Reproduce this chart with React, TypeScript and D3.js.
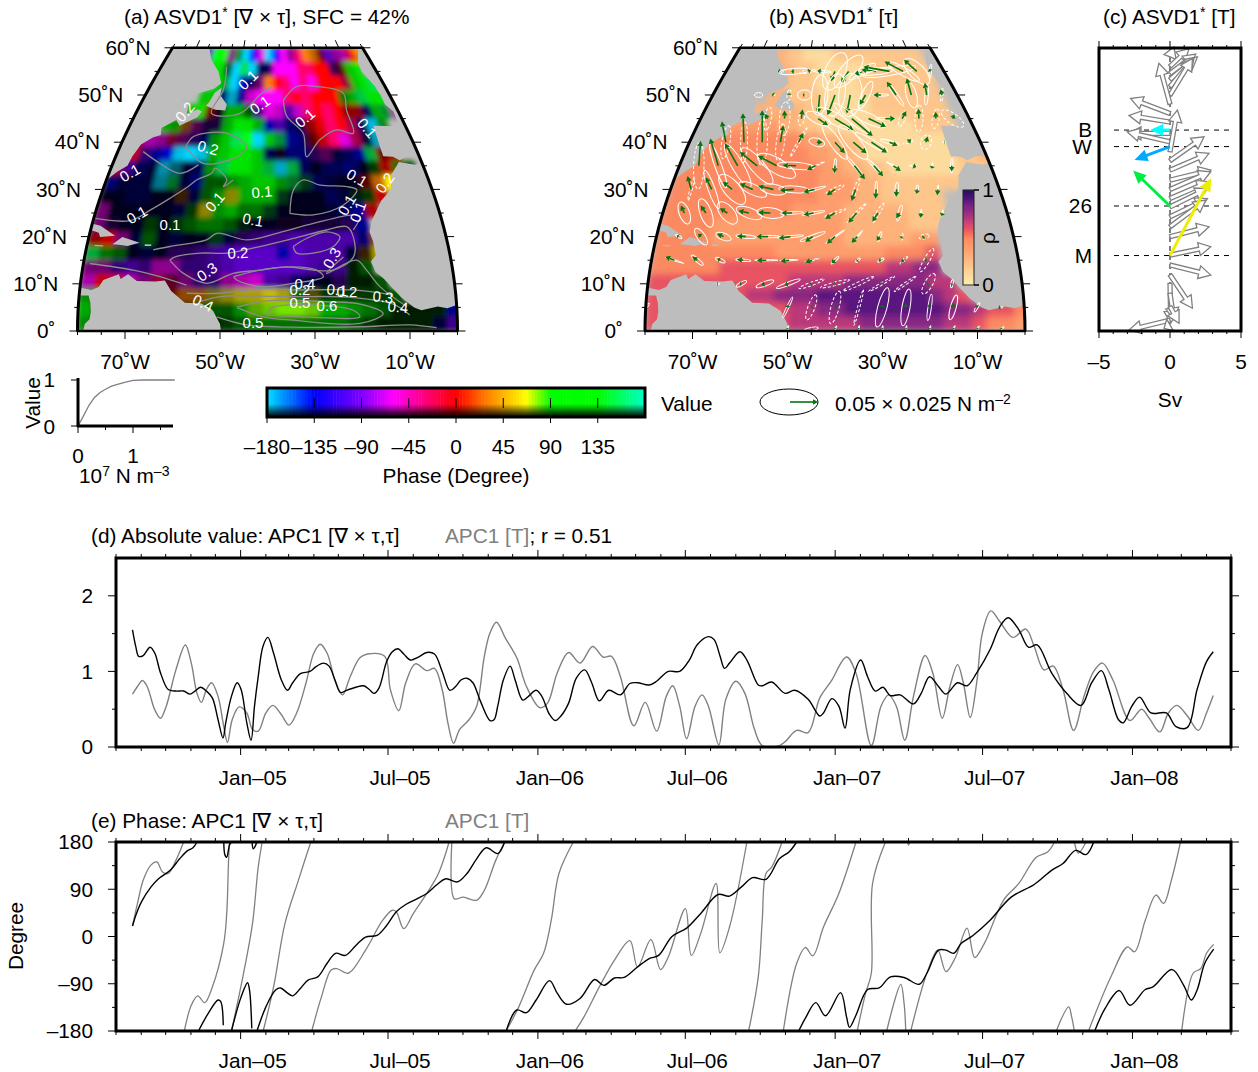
import React from "react";
import * as d3 from "d3";

const FONT = "'Liberation Sans', Arial, sans-serif";
const LABEL = 20.8;
const SUP = 14;

// phase classes (degrees) used by the grid of panel (a); "." means no data
const phaseByLetter: Record<string, number> = { C: -178, B: -135, V: -95, M: -60, P: -25, R: 0, O: 30, Y: 62, L: 78, G: 100, T: 155 };

// 3 x 3 degree cells, 60N at the top, 80W at the left
const phaseRows = [
  ".....VGGMGCBMCBMMPOORVMMRO.",
  "......GGTCGCBBMMMPPRRVRGG..",
  ".......GGCBBMORPMPMRRRPGGT.",
  "......GGBCBMMMMPRPRRRGGTGG.",
  "....MGGRVGGGVMMVMPRPRRRBGTM",
  "...GGOMVVGGGGBVBBRRPRPBCG..",
  ".RMMPMVBGGTGCGTBBRRPMPBCG..",
  "RRVBBCCCGGGGGBVBBVMBBBTRR..",
  "RVBBCCBBGTGGGTCTBBBBBBGRGG.",
  "BBBBCTBBGGGGGGGTTBBBBROY...",
  "BBBBBBOBGGYGGGTBBBBBTGR....",
  "MBBBBBBGYGGGGTBBBBBBBR.....",
  "MVBBGBGGGGGTBBVVVVVVB......",
  "RRMBGBBBBTBVVVVVVVVVBO.....",
  "TGGBBBVVVVVVVVBVVVVBOY.....",
  "MMVVVMMVVVVVVVVVVVVGG......",
  "MRPMMPPMVVMMMVVBBBVGGG.....",
  "GGRRRRROOYYYYYYGYGGGGGG....",
  "GGGGGGGGGGGGLLLLLGGGGGGGGGB",
  "GGGGGGGGGGGGGGGGGGGGGGGGGBV",
];
// value of each cell in tenths (9 = full)
const valueRows = [
  "000007995599899959974756890",
  "000000883989339999999337800",
  "000000086973499999999957880",
  "000000774757999999999467880",
  "000057841663587679999553657",
  "000654322688666435899638500",
  "056543335789975543798627300",
  "674578986788731443323564600",
  "653264235788767631334126430",
  "422254243356775423211379000",
  "112211223556662111321270000",
  "411111225564421111235600000",
  "421121234431111122235000000",
  "574231211223455666664500000",
  "643121334567776766622600000",
  "444545544567777765513000000",
  "677645344456765321311300000",
  "555554455456676432222230000",
  "600000003335678876654311115",
  "500000000023444444432111125",
];
// rho of panel (b) in tenths
const rhoRows = [
  ".....33221111222222222222..",
  "......33222111111122222222.",
  ".......322211111222222222..",
  "......3322221111122222222..",
  "....333333221111122222222..",
  "..34444433221111111112222..",
  ".5555555554433221111111122.",
  "555555555554433211111111223",
  "555555555555443322111111222",
  "555555555555444332222222...",
  "5555555555554443322222.....",
  "5555555555444433333222.....",
  "5555444444444433333222.....",
  "555544444444443333344......",
  "555555555444444445556......",
  "555556666666666667788......",
  "6666666666777788888877.....",
  "66666667788899999999876....",
  "666666666677889999999887665",
  "666666666677777888888776554",
];

// coastlines, lon/lat
const landNorthAmerica: [number, number][] = [[-80.2, 25], [-80, 27], [-81, 30.5], [-80, 32], [-78, 33.8], [-76, 35], [-75.6, 37], [-74.5, 39.5], [-72, 41], [-70, 41.5], [-70.5, 43], [-67, 44.7], [-65.5, 43.5], [-61, 45.3], [-60, 46.5], [-61.5, 47], [-64.5, 46], [-65, 48.5], [-68, 49], [-63, 50.3], [-58, 51.3], [-56, 52.5], [-58, 55], [-62, 57.5], [-64.5, 60], [-95, 60], [-95, 25]];
const landNewfoundland: [number, number][] = [[-59.3, 47.7], [-56, 46.9], [-53, 46.7], [-52.8, 48], [-55.5, 50], [-55.5, 51.6], [-57.5, 50.5], [-58.5, 48.5]];
const landCuba: [number, number][] = [[-85, 22], [-82, 23.2], [-78, 22.3], [-74.2, 20.2], [-77.5, 19.9], [-78, 20.8], [-82, 22]];
const landHispaniola: [number, number][] = [[-74.4, 18.4], [-72.5, 19.9], [-68.4, 18.7], [-71, 18], [-72.5, 18.2]];
const landJamaica: [number, number][] = [[-78.3, 18.2], [-76.3, 18.1], [-76.5, 17.9], [-78.2, 18]];
const landPuertoRico: [number, number][] = [[-67.2, 18.4], [-65.7, 18.3], [-65.8, 18], [-67.2, 18]];
const landSouthAmerica: [number, number][] = [[-83, 8.5], [-80, 9.2], [-77.5, 8.7], [-76, 9.3], [-75.2, 10.8], [-72, 12], [-71.5, 11], [-70, 12], [-68, 10.6], [-64, 10.5], [-62, 10.7], [-60.5, 8.5], [-57.5, 6], [-54, 5.8], [-51.5, 4.3], [-50, 1.5], [-49.8, 0], [-50, -1], [-79, -1], [-78.5, 1.5], [-77.5, 2.5], [-77.3, 4], [-77.5, 6], [-78, 7.5], [-80, 7.5], [-83, 7]];
const landAfrica: [number, number][] = [[-5.9, 35.8], [-9, 33], [-10, 30], [-13, 27.6], [-16, 23.5], [-17, 21], [-16.5, 19], [-16.3, 16], [-17.5, 14.7], [-16.7, 12.5], [-15, 11], [-13.3, 9], [-11.5, 7], [-9, 5], [-7.5, 4.4], [-4, 5.2], [-2, 4.8], [0, 5.5], [5, 6], [5, 36.8], [-2, 35.2]];
const landEurope: [number, number][] = [[-5.5, 36.2], [-7, 36.9], [-9.5, 37], [-9.5, 39], [-9.3, 43.5], [-1.8, 43.4], [-1.5, 46.5], [-3, 48], [-3, 50], [-3.5, 52], [-5.5, 55], [-5, 57], [-3, 59], [-1.5, 60], [5, 60], [5, 37.2], [-3, 37]];
const landAreas = [landNorthAmerica, landNewfoundland, landCuba, landHispaniola, landJamaica, landPuertoRico, landSouthAmerica, landAfrica, landEurope];

// contours of the value in panel (a), lon/lat
const contourLines: [number, number][][] = [
  [[-65.2, 17.2], [-61.6, 17.9], [-53.6, 19.3], [-51.4, 20.7], [-44.6, 19.3], [-37.9, 20.7], [-29.5, 22.8], [-20.1, 24.6], [-18.7, 24.2], [-20.6, 21.4]],
  [[-61.3, 15], [-60.2, 15.7], [-54.8, 16.5], [-49, 16.5], [-41.7, 17.9], [-34.2, 19.6], [-26.6, 21.4], [-22, 22.1], [-20.8, 20], [-21.2, 15.7], [-25.8, 12.9], [-30.1, 12.9], [-35.8, 13.6], [-41.6, 12.9], [-47.4, 12.2], [-53, 10.1], [-58.1, 12.2], [-61.3, 15]],
  [[-34.3, 17.9], [-31.3, 19.6], [-26.7, 21], [-23.8, 20], [-25.4, 17.9], [-30, 16.5], [-33.6, 16.5], [-34.3, 17.9]],
  [[-47.3, 11.5], [-41.6, 12.9], [-34.4, 13.6], [-29.4, 12.9], [-28, 11.5], [-34.5, 10.1], [-41.6, 9.4], [-46.6, 10.8], [-47.3, 11.5]],
  [[-57.2, 8], [-50.1, 8], [-41.6, 9], [-34.5, 8.7], [-21.7, 8.7], [-13.3, 7.6]],
  [[-54.3, 6.2], [-50.1, 7.3], [-44.4, 7.4], [-34.5, 7.3], [-21.8, 7.1], [-13.4, 5.7], [-10, 3.4]],
  [[-46.5, 5], [-40.2, 6.4], [-27.5, 6.2], [-20.4, 5.7], [-15.6, 3.7], [-20.5, 1.6], [-34.6, 2.3], [-40.9, 3], [-46.5, 5]],
  [[-40.2, 3.4], [-38.8, 5], [-30.3, 5.5], [-21.9, 4.4], [-20.5, 3], [-30.3, 2.9], [-40.2, 3.4]],
  [[-50.7, 3], [-44.4, 1.3], [-34.6, 0.8], [-20.5, 0.9], [-10, 1.3], [-4.4, 0.7]],
  [[-80, 23.9], [-71.5, 23.4], [-67.4, 25.6], [-63.3, 28.1], [-59.4, 30.6], [-57.6, 32], [-54.1, 33.4], [-53.4, 34.5], [-50.1, 32], [-50.8, 30.6], [-48.5, 32]],
  [[-34.8, 24.9], [-33.7, 29.9], [-31.1, 32], [-27.1, 30.9], [-20.6, 30.6], [-18.3, 29.9], [-22.1, 26.7], [-29.4, 24.6], [-34.8, 24.9]],
  [[-34.9, 48.9], [-30.1, 51.8], [-23.3, 51.8], [-15, 50.4], [-15.7, 46.8], [-15.7, 41.9], [-20.2, 42.6], [-25.5, 40.5], [-29.7, 36.9], [-29.9, 41.9], [-34.2, 45.5], [-34.9, 48.9]],
  [[-55.4, 56], [-54.8, 51.1], [-57, 46.1], [-48.3, 46.1], [-42.5, 50], [-38.6, 51.8]],
  [[-62.1, 39], [-60.7, 41.2], [-51.6, 41.9], [-45.6, 39], [-48.1, 36.9], [-56.6, 35.5], [-62.1, 39]],
  [[-73.2, 38], [-67.8, 35.5], [-62.1, 33.4], [-57.8, 35.2]],
  [[-23.4, 15.7], [-27.3, 12.2], [-20.6, 15], [-18.6, 12.9], [-16, 9.4], [-10.6, 5.2]],
  [[-78.6, 14.3], [-69, 12.9], [-63.1, 11.5], [-57.3, 9.7]],
];
// x, y, text, rotation
const contourLabels: [number, number, string, number][] = [
  [248, 80, "0.1", -45], [260, 105, "0.1", -35], [305, 118, "0.1", -40], [367, 128, "0.1", 50], [185, 112, "0.2", -50], [208, 148, "0.2", 15],
  [130, 173, "0.1", -30], [262, 192, "0.1", -5], [215, 202, "0.1", -50], [137, 215, "0.1", -30], [170, 225, "0.1", 0], [253, 220, "0.1", 10],
  [357, 178, "0.1", 30], [385, 183, "0.2", -55], [347, 205, "0.1", -60], [358, 212, "0.1", -70], [238, 253, "0.2", -3], [207, 272, "0.3", -35],
  [332, 258, "0.3", -60], [305, 284, "0.4", 0], [300, 290, "0.2", 0], [337, 290, "0.1", 5], [347, 292, "0.2", 0], [383, 297, "0.3", 5],
  [398, 307, "0.4", 5], [203, 303, "0.4", 25], [300, 303, "0.5", 0], [327, 306, "0.6", 0], [253, 323, "0.5", 0],
];

// wind stress on the 5 degree grid: lon, lat, u, v (1e-3 N/m2), semi-major, semi-minor, angle, dashed
const stressGrid: [number, number, number, number, number, number, number, number][] = [
  [-60, 55, -5, 0, 5, 2, 0, 1], [-55, 55, -5, 0, 26, 5, 5, 0], [-50, 55, 5, 2, 14, 3, 10, 1], [-45, 55, -7, 1, 17, 2, -5, 0], [-40, 55, -7, -17, 35, 17, 65, 0], [-35, 55, -13, -20, 35, 14, 50, 0], [-30, 55, -14, -6, 26, 6, 30, 0], [-25, 55, -25, 3, 29, 6, 5, 0], [-20, 55, -45, 8, 46, 7, 10, 0], [-15, 55, -32, 17, 32, 7, -30, 0], [-10, 55, -22, 20, 29, 13, -45, 0], [-5, 55, -2, 4, 12, 2, 85, 0],
  [-65, 50, 0, 0, 7, 4, 0, 0], [-60, 50, -3, 2, 3, 1, 0, 0], [-55, 50, 0, 3, 9, 4, 85, 1], [-50, 50, -3, 0, 12, 9, 0, 0], [-45, 50, -3, -32, 35, 14, 85, 0], [-40, 50, -13, -35, 37, 17, 80, 0], [-35, 50, -6, -32, 37, 20, 85, 0], [-30, 50, -10, -17, 26, 7, 65, 0], [-25, 50, -13, 0, 14, 2, 0, 0], [-20, 50, -16, 23, 23, 3, -55, 0], [-15, 50, -8, 29, 23, 9, -75, 0], [-10, 50, -3, 21, 17, 3, 85, 0], [-5, 50, -2, 10, 12, 2, 85, 1],
  [-60, 45, -5, 8, 20, 6, 80, 1], [-55, 45, 0, 14, 29, 9, 85, 1], [-50, 45, 2, 16, 12, 5, 80, 1], [-45, 45, 17, -12, 23, 9, -25, 0], [-40, 45, 32, -20, 35, 10, -30, 0], [-35, 45, 36, -30, 40, 7, -40, 0], [-30, 45, 30, -14, 32, 9, -25, 0], [-25, 45, 17, 0, 17, 2, 0, 0], [-20, 45, 7, 13, 14, 5, 70, 1], [-15, 45, -1, 17, 23, 7, 88, 1], [-10, 45, 0, 12, 17, 6, 80, 1], [-5, 45, 3, 7, 23, 9, -35, 1],
  [-70, 40, -7, 36, 29, 7, 80, 1], [-65, 40, -2, 50, 35, 6, 88, 1], [-60, 40, 0, 55, 40, 9, 88, 1], [-55, 40, 5, 29, 32, 7, 82, 1], [-50, 40, 8, 16, 29, 2, 60, 1], [-45, 40, 10, 0, 14, 7, -15, 0], [-40, 40, 17, -19, 35, 9, -55, 0], [-35, 40, 23, -19, 37, 12, -50, 0], [-30, 40, 27, -18, 32, 5, -30, 0], [-25, 40, 14, -6, 17, 3, -15, 0], [-20, 40, 6, 5, 9, 2, 20, 1], [-15, 40, 3, 10, 13, 9, 70, 1], [-10, 40, 1, 0, 3, 1, 0, 0],
  [-75, 35, 3, 43, 40, 9, 88, 1], [-70, 35, -14, 47, 40, 6, -70, 0], [-65, 35, -22, 39, 43, 10, -60, 0], [-60, 35, -30, 24, 40, 12, -50, 0], [-55, 35, -32, 17, 37, 13, -30, 0], [-50, 35, -23, 1, 32, 6, -5, 0], [-45, 35, -15, -7, 17, 1, 25, 1], [-40, 35, -1, -13, 12, 2, 85, 0], [-35, 35, 18, -23, 23, 2, -50, 0], [-30, 35, 16, -18, 17, 2, -45, 0], [-25, 35, 13, -9, 14, 1, -30, 0], [-20, 35, 6, -2, 6, 1, 0, 0], [-15, 35, -1, -5, 5, 1, 85, 0], [-10, 35, 0, -10, 12, 2, 88, 0],
  [-75, 30, -6, 23, 20, 2, 75, 1], [-70, 30, -10, 21, 35, 6, -70, 0], [-65, 30, -16, 13, 32, 14, -50, 0], [-60, 30, -22, 10, 26, 9, -25, 0], [-55, 30, -26, 6, 23, 9, -10, 0], [-50, 30, -24, -2, 26, 6, -3, 0], [-45, 30, -19, -5, 20, 2, 15, 0], [-40, 30, -14, -10, 17, 3, 25, 1], [-35, 30, -7, -20, 20, 3, 70, 1], [-30, 30, -1, -16, 14, 2, 88, 0], [-25, 30, -1, -13, 12, 3, 85, 0], [-20, 30, -1, -8, 7, 2, 85, 0], [-15, 30, -1, -10, 7, 1, 85, 0],
  [-75, 25, -6, 13, 20, 9, -70, 0], [-70, 25, -9, 13, 26, 10, -70, 0], [-65, 25, -13, 8, 23, 12, -50, 0], [-60, 25, -18, 4, 23, 9, -20, 0], [-55, 25, -21, 1, 23, 9, -7, 0], [-50, 25, -18, 0, 20, 2, 3, 0], [-45, 25, -17, -3, 20, 2, 10, 0], [-40, 25, -17, -10, 20, 2, 20, 1], [-35, 25, -14, -17, 23, 2, 45, 1], [-30, 25, -10, -15, 20, 3, 60, 1], [-25, 25, -6, -9, 14, 3, 75, 0], [-20, 25, -1, -8, 7, 1, 85, 0], [-15, 25, -2, -5, 5, 1, 85, 0],
  [-75, 20, -3, 2, 6, 2, -30, 0], [-70, 20, -5, 5, 17, 7, -55, 0], [-65, 20, -11, 5, 14, 6, -20, 0], [-60, 20, -15, 1, 17, 3, -5, 0], [-55, 20, -20, 0, 20, 2, 0, 0], [-50, 20, -20, -3, 23, 2, 5, 0], [-45, 20, -13, -9, 23, 3, 20, 0], [-40, 20, -14, -12, 20, 1, 35, 0], [-35, 20, -10, -11, 14, 1, 50, 0], [-30, 20, -5, -7, 9, 2, 70, 0], [-25, 20, -2, -3, 6, 2, 85, 1], [-20, 20, -3, -3, 9, 4, 15, 1],
  [-75, 15, -16, 6, 17, 1, -18, 0], [-70, 15, -9, 6, 13, 3, -40, 0], [-65, 15, -5, 2, 9, 3, -25, 0], [-60, 15, -11, 1, 13, 2, -5, 0], [-55, 15, -16, 0, 20, 1, 0, 0], [-50, 15, -15, -2, 16, 1, 3, 0], [-45, 15, -12, -4, 13, 1, 15, 1], [-40, 15, -6, -5, 9, 2, 45, 0], [-35, 15, -2, -2, 5, 2, 45, 0], [-30, 15, -4, 0, 6, 2, 30, 0], [-25, 15, -4, -2, 9, 2, 45, 1], [-20, 15, -3, 0, 23, 5, 60, 1],
  [-65, 10, -2, 0, 3, 1, 0, 0], [-60, 10, -3, 0, 10, 3, 30, 0], [-55, 10, -6, -2, 16, 4, 20, 0], [-50, 10, -6, -2, 22, 3, 20, 0], [-45, 10, -3, 0, 23, 3, 20, 1], [-40, 10, -3, 0, 26, 3, 15, 1], [-35, 10, -1, 1, 29, 3, 25, 1], [-30, 10, -2, 1, 26, 2, 30, 1], [-25, 10, 0, 1, 23, 2, 35, 1], [-20, 10, -2, -2, 20, 7, 60, 1], [-15, 10, -1, -2, 7, 2, 80, 0],
  [-80, 5, 1, 1, 9, 2, 50, 0], [-50, 5, 0, 4, 20, 2, 65, 0], [-45, 5, 2, 2, 23, 6, 70, 1], [-40, 5, 3, 2, 29, 7, 75, 1], [-35, 5, 0, 1, 32, 2, 75, 1], [-30, 5, 0, 4, 35, 8, 75, 0], [-25, 5, -1, 6, 32, 7, 80, 0], [-20, 5, -1, 6, 23, 3, 82, 0], [-15, 5, -1, 7, 22, 5, 75, 0], [-10, 5, -2, 4, 9, 2, 60, 0], [-5, 5, -4, -1, 4, 1, 0, 0],
  [-50, 0.4, -1, 2, 6, 1, 70, 0], [-45, 0.4, 2, 0, 12, 3, 10, 0], [-40, 0.4, -1, 2, 6, 1, 60, 0], [-35, 0.4, -1, 2, 6, 1, 80, 0], [-30, 0.4, -1, 2, 6, 1, 85, 0], [-25, 0.4, -1, 2, 6, 1, 85, 0], [-20, 0.4, -1, 2, 6, 1, 80, 0], [-15, 0.4, -1, 2, 6, 1, 70, 0], [-10, 0.4, -1, 2, 6, 1, 60, 0], [-5, 0.4, -1, 2, 6, 1, 40, 0],
];

// panel (c): lat of the arrow tail, u, v in Sv
const transportGray: [number, number, number][] = [
  [58.1, 0.28, 0.7], [56.1, 1.34, 1.25], [54.6, 1.81, 1.36], [53.3, 1.93, 1.6], [51.8, 1.69, 2.0], [50, 1.58, 2.59], [48.1, -0.78, 2.87], [46.1, -2.78, 1.06], [44.3, -2.89, 0.47], [41.9, -2.89, 0], [40.1, -3.01, 0.7],
  [38, 0.52, 2.94], [36.1, 2.4, 1.69], [34.1, 2.75, 1.18], [32, 2.87, 0.7], [30, 2.87, 1.25], [28.1, 2.75, 1.18], [26.3, 2.64, 1.29], [24.2, 2.64, 1.29], [22.1, 2.52, 1.88], [20, 2.75, 0.7], [16.1, 2.87, 0.59],
  [14, 2.87, -0.71], [11.9, 1.58, -2.35], [10.1, 0.05, -2.82], [8, 0.28, -1.88], [5.2, 0.64, -1.18], [2.3, -2.89, -0.7], [1.3, -0.42, -0.24],
];
const transportArrays: [number, number, number, string][] = [
  [42.6, -1.4, 0, "#00ffff"], [39.1, -2.5, -0.95, "#00aaff"], [26.5, -2.6, 2.5, "#00ee44"], [16, 2.9, 5.45, "#eeee00"],
];
const arrayLines: [number, string][] = [[42.6, "B"], [39.1, "W"], [26.5, "26"], [16, "M"]];

// inset: saturation curve
const insetCurve: [number, number][] = [[0, 0], [0.1, 0.22], [0.2, 0.45], [0.3, 0.62], [0.4, 0.73], [0.5, 0.8], [0.6, 0.86], [0.7, 0.9], [0.85, 0.95], [1, 0.99], [1.2, 1], [1.76, 1]];

// time series, months since Jan 2005
const absDiv: [number, number][] = [
  [-4.36, 1.55], [-4.23, 1.33], [-4.11, 1.2], [-3.93, 1.21], [-3.65, 1.32], [-3.46, 1.24], [-3.23, 0.98], [-2.92, 0.76], [-2.61, 0.74], [-2.3, 0.74], [-2.04, 0.7], [-1.84, 0.74], [-1.61, 0.79], [-1.38, 0.74], [-1.14, 0.65], [-0.91, 0.36], [-0.71, 0.12], [-0.6, 0.32], [-0.37, 0.67], [-0.14, 0.85], [0.02, 0.76], [0.25, 0.32], [0.42, 0.09], [0.56, 0.54], [0.71, 0.93], [0.9, 1.33], [1.1, 1.45], [1.33, 1.24], [1.64, 0.89], [1.89, 0.75], [2.1, 0.85], [2.41, 0.97], [2.8, 1], [3.03, 1.06], [3.34, 1.11], [3.57, 1.07], [3.8, 0.89], [4.03, 0.72], [4.27, 0.75], [4.65, 0.79], [4.96, 0.81], [5.19, 0.76], [5.38, 0.71], [5.58, 0.78], [5.89, 1.13], [6.12, 1.26], [6.35, 1.3], [6.58, 1.23], [6.86, 1.15], [7.17, 1.19], [7.51, 1.25], [7.82, 1.23], [8.13, 1], [8.44, 0.75], [8.67, 0.8], [8.9, 0.89], [9.13, 0.91], [9.37, 0.85], [9.68, 0.6], [10.06, 0.35], [10.22, 0.36], [10.37, 0.54], [10.6, 0.89], [10.87, 1.07], [11.07, 0.89], [11.38, 0.62], [11.61, 0.67], [11.92, 0.75], [12.15, 0.67], [12.46, 0.43], [12.69, 0.35], [12.92, 0.41], [13.23, 0.58], [13.54, 0.91], [13.88, 1.02], [14.16, 0.85], [14.47, 0.61], [14.85, 0.75], [15.32, 0.69], [15.7, 0.84], [16.01, 0.85], [16.48, 0.82], [16.78, 0.87], [17.25, 1], [17.71, 1],
  [18.1, 1.15], [18.41, 1.35], [18.87, 1.46], [19.1, 1.42], [19.34, 1.2], [19.52, 1.04], [19.72, 1.11], [20.14, 1.26], [20.42, 1.15], [20.88, 0.82], [21.04, 0.81], [21.42, 0.86], [21.96, 0.71], [22.35, 0.75], [22.89, 0.63], [23.36, 0.41], [23.51, 0.45], [23.85, 0.64], [24.13, 0.54], [24.38, 0.25], [24.59, 0.76], [25.01, 1.15], [25.29, 0.93], [25.6, 0.74], [25.91, 0.79], [26.21, 0.68], [26.6, 0.69], [27.14, 0.57], [27.45, 0.71], [27.79, 0.93], [28.15, 0.8], [28.45, 0.7], [28.92, 0.85], [29.3, 0.81], [29.69, 0.98], [30.23, 1.29], [30.62, 1.59], [30.96, 1.71], [31.39, 1.55], [31.78, 1.32], [32.13, 1.35], [32.71, 0.98], [33.32, 0.71], [33.9, 0.55], [34.33, 0.85], [34.72, 1.01], [35.02, 0.76], [35.41, 0.36], [35.6, 0.32], [35.95, 0.54], [36.26, 0.66], [36.72, 0.45], [37.34, 0.45], [37.73, 0.27], [38.19, 0.26], [38.58, 0.76], [38.96, 1.13], [39.23, 1.26],
];
const absT: [number, number][] = [
  [-4.36, 0.7], [-4.16, 0.8], [-3.96, 0.88], [-3.77, 0.8], [-3.46, 0.49], [-3.23, 0.38], [-3, 0.54], [-2.61, 1.02], [-2.23, 1.35], [-1.99, 1.11], [-1.76, 0.71], [-1.58, 0.59], [-1.38, 0.76], [-1.17, 0.85], [-0.91, 0.67], [-0.68, 0.27], [-0.53, 0.06], [-0.34, 0.36], [-0.06, 0.53], [0.25, 0.45], [0.48, 0.23], [0.71, 0.21], [1.02, 0.45], [1.3, 0.55], [1.64, 0.43], [1.95, 0.29], [2.26, 0.45], [2.64, 0.85], [2.95, 1.24], [3.21, 1.36], [3.49, 1.24], [3.8, 0.89], [4.11, 0.69], [4.42, 0.93], [4.81, 1.18], [5.12, 1.23], [5.81, 1.2], [6.04, 0.76], [6.38, 0.48], [6.66, 0.85], [7.05, 1.1], [7.51, 1.01], [7.82, 1.04], [8.13, 0.76], [8.36, 0.32], [8.59, 0.05], [8.83, 0.23], [9.21, 0.36], [9.52, 0.54], [9.83, 1.2], [10.06, 1.51], [10.32, 1.65], [10.68, 1.44], [11.14, 1.18], [11.53, 0.8], [12.07, 0.52], [12.38, 0.58], [12.77, 0.98], [13.23, 1.25], [13.69, 1.11], [14.2, 1.33], [14.62, 1.19], [14.96, 1.2], [15.32, 0.93], [15.86, 0.28], [16.32, 0.59], [16.78, 0.21], [17.17, 0.67], [17.43, 0.81], [17.71, 0.54], [17.99, 0.11],
  [18.33, 0.54], [18.61, 0.69], [18.87, 0.54], [19.29, 0.03], [19.57, 0.63], [19.98, 0.87], [20.34, 0.71], [20.73, 0.23], [21.04, 0.02], [21.66, 0.01], [21.96, 0.07], [22.43, 0.22], [22.89, 0.19], [23.36, 0.65], [23.82, 0.87], [24.44, 1.19], [24.82, 0.98], [25.44, 0.02], [25.83, 0.54], [26.14, 0.69], [26.45, 0.54], [26.79, 0.09], [27.14, 0.67], [27.61, 1.21], [27.92, 0.98], [28.3, 0.38], [28.61, 0.8], [28.92, 1.09], [29.15, 0.85], [29.43, 0.39], [29.69, 0.85], [29.92, 1.51], [30.26, 1.8], [30.62, 1.66], [31.15, 1.45], [31.67, 1.56], [32.01, 1.33], [32.4, 1.02], [32.78, 1.07], [33.17, 0.76], [33.6, 0.22], [34.02, 0.67], [34.41, 1], [34.76, 1.11], [35.18, 0.89], [35.87, 0.35], [36.34, 0.5], [36.65, 0.38], [37.08, 0.2], [37.42, 0.45], [37.76, 0.55], [38.19, 0.41], [38.63, 0.22], [38.96, 0.45], [39.23, 0.68],
];
// phase, split where it wraps at +-180
const phaseDiv: [number, number][][] = [
  [[-4.36, 20], [-4.23, 40], [-4, 66], [-3.62, 94], [-3.31, 110], [-2.84, 126], [-2.46, 148], [-2.15, 163], [-1.92, 169], [-1.76, 180]],
  [[-0.68, 180], [-0.63, 155], [-0.56, 151], [-0.45, 174], [-0.37, 180]],
  [[0.46, 180], [0.51, 167], [0.59, 172], [0.65, 180]],
  [[-1.7, -180], [-1.3, -146], [-0.91, -121], [-0.8, -124], [-0.7, -169]],
  [[-0.37, -180], [0.02, -115], [0.28, -88], [0.36, -102], [0.45, -175]],
  [[0.66, -180], [1.02, -134], [1.41, -102], [1.61, -98], [1.87, -107], [2.1, -113], [2.41, -99], [2.72, -83], [3.11, -77], [3.49, -51], [3.83, -32], [4.23, -36], [4.65, -17], [5.04, -1], [5.5, 2], [5.89, 21], [6.28, 47], [6.66, 61], [7.13, 72], [7.51, 82], [7.9, 98], [8.28, 110], [8.75, 104], [9.13, 120], [9.52, 148], [9.91, 169], [10.37, 158], [10.65, 180]],
  [[10.71, -180], [11.14, -140], [11.53, -145], [11.92, -121], [12.46, -84], [12.77, -108], [13.15, -129], [13.69, -118], [14.28, -82], [14.65, -93], [15.08, -79], [15.47, -78], [16.01, -58], [16.48, -42], [16.86, -36], [17.4, 0], [17.99, 16], [18.56, 44], [19.26, 80], [19.72, 77], [20.19, 94], [20.65, 112], [21.19, 109], [21.73, 148], [22.12, 161], [22.43, 180]],
  [[22.51, -180], [22.81, -153], [23.2, -126], [23.59, -151], [24.2, -107], [24.44, -153], [24.56, -173], [24.82, -150], [25.29, -101], [25.75, -98], [26.21, -77], [26.76, -78], [27.37, -91], [27.68, -70], [28.15, -26], [28.45, -26], [28.76, -32], [29.07, -13], [29.54, 2], [30.23, 31], [31.08, 75], [32.01, 99], [32.71, 126], [33.17, 139], [33.68, 164], [34.1, 156], [34.41, 180]],
  [[34.45, -180], [34.87, -137], [35.44, -103], [35.87, -131], [36.49, -101], [36.8, -96], [37.57, -63], [38.04, -93], [38.35, -121], [38.58, -102], [38.89, -51], [39.25, -24]],
];
const phaseT: [number, number][][] = [
  [[-4.36, 20], [-4.16, 63], [-3.93, 107], [-3.62, 136], [-3.38, 142], [-3.15, 123], [-2.92, 120], [-2.61, 145], [-2.3, 180]],
  [[-2.27, -180], [-1.99, -131], [-1.73, -113], [-1.45, -126], [-1.14, -96], [-0.68, -13], [-0.56, 44], [-0.49, 139], [-0.45, 180]],
  [[-0.37, -180], [0.09, -77], [0.48, 25], [0.71, 132], [0.87, 180]],
  [[0.91, -180], [1.33, -96], [1.79, 25], [2.33, 107], [2.83, 180]],
  [[2.87, -180], [3.26, -115], [3.65, -64], [3.88, -61], [4.34, -70], [5.04, -26], [5.73, 31], [6.12, 50], [6.28, 47], [6.58, 15], [6.97, 44], [7.51, 82], [7.98, 120], [8.41, 180]],
  [[8.52, 180], [8.62, 72], [8.98, 75], [9.52, 69], [9.83, 88], [10.29, 145], [10.65, 180]],
  [[10.71, -180], [11.22, -134], [11.84, -64], [12.22, -32], [12.53, 31], [12.84, 120], [13.42, 180]],
  [[13.49, -180], [13.85, -153], [14.47, -96], [15.08, -45], [15.7, -8], [16.01, -58], [16.55, -6], [16.94, -63], [17.25, -39], [17.94, 53], [18.18, -36], [18.56, 6], [19.18, 101], [19.33, -31], [19.72, 18], [20.42, 180]],
  [[20.49, -180], [20.88, -77], [21.04, 31], [21.19, 120], [21.42, 132], [21.84, 180]],
  [[21.89, -180], [22.43, -51], [22.78, -21], [23.08, -37], [23.51, 18], [24.13, 82], [24.82, 180]],
  [[24.87, -180], [25.21, -108], [25.44, -70], [25.49, 101], [26.01, 180]],
  [[26.06, -180], [26.63, -91], [26.76, -127], [26.83, -180]],
  [[26.91, 180], [26.94, 174], [26.99, 180]],
  [[27.03, -180], [27.68, -70], [28.12, -26], [28.45, -67], [28.84, -39], [29.3, 16], [29.61, -40], [30, -13], [30.77, 69], [31.39, 101], [32.09, 151], [32.55, 161], [32.83, 180]],
  [[32.9, -180], [33.4, -134], [33.52, -153], [33.63, -180]],
  [[33.63, 180], [33.79, 159], [34.1, 180]],
  [[34.2, -180], [35.1, -77], [35.77, -20], [36.06, -29], [36.49, 31], [36.92, 79], [37.23, 63], [37.54, 107], [37.91, 180]],
  [[37.96, -180], [38.42, -70], [38.73, -61], [38.96, -32], [39.25, -15]],
];
const timeLabels = ["Jan\u201305", "Jul\u201305", "Jan\u201306", "Jul\u201306", "Jan\u201307", "Jul\u201307", "Jan\u201308"];
const barTicks = [-180, -135, -90, -45, 0, 45, 90, 135];

const phaseColor = d3.scaleLinear<string>()
  .domain([-180, -135, -90, -60, 0, 30, 67, 90, 135, 180])
  .range(["#00e0ff", "#0000ff", "#8000ff", "#ff00ff", "#ff0000", "#ff8200", "#ffff00", "#00ff00", "#00ff00", "#00ffc8"])
  .interpolate(d3.interpolateRgb);
const rhoColor = (rho: number) =>
  d3.interpolateMagma(d3.scaleLinear([0, 0.5, 1], [0.97, 0.75, 0.15])(rho));
function phaseValueColor(phase: number, value: number) {
  const c = d3.rgb(phaseColor(phase));
  return d3.rgb(c.r * value, c.g * value, c.b * value).formatHex();
}

const LAT_Y = 0.9937;
function sinusoidal(lambda: number, phi: number): [number, number] {
  return [lambda * Math.cos(phi), phi * LAT_Y];
}
function makeProjection(cx: number) {
  return d3.geoProjection(sinusoidal).rotate([40, 0]).scale((4.75 * 180) / Math.PI).translate([cx, 331]);
}
const fmtDeg = (lat: number) => (lat === 0 ? "0\u02DA" : `${lat}\u02DAN`);

function GreenArrow({ x0, y0, x1, y1 }: { x0: number; y0: number; x1: number; y1: number }) {
  const len = Math.hypot(x1 - x0, y1 - y0);
  if (len < 0.3) return null;
  const ux = (x1 - x0) / len, uy = (y1 - y0) / len;
  const h = Math.min(5, len * 0.8);
  const bx = x1 - ux * h, by = y1 - uy * h;
  return (
    <g>
      <line x1={x0} y1={y0} x2={bx} y2={by} stroke="#08740f" strokeWidth={1.6} />
      <polygon points={`${x1},${y1} ${bx - uy * 2.8},${by + ux * 2.8} ${bx + uy * 2.8},${by - ux * 2.8}`} fill="#08740f" />
    </g>
  );
}

function MapPanel({ id, cx, kind }: { id: string; cx: number; kind: "phase" | "rho" }) {
  const projection = makeProjection(cx);
  const pt = (lon: number, lat: number) => projection([lon, lat]) as [number, number];
  const lats = d3.range(0, 60.01, 2);
  const outline = [
    ...lats.map((la) => pt(-80, la)),
    ...lats.slice().reverse().map((la) => pt(0, la)),
  ];
  const clipD = `M${outline.map((p) => p.join(",")).join("L")}Z`;
  const leftD = d3.line()(lats.map((la) => pt(-80, la))) as string;
  const rightD = d3.line()(lats.map((la) => pt(0, la))) as string;
  const polyLine = d3.line();
  const curve = d3.line().curve(d3.curveCatmullRom.alpha(0.5));

  const cells: React.ReactNode[] = [];
  const rows = kind === "phase" ? phaseRows : rhoRows;
  rows.forEach((row, r) => {
    row.split("").forEach((ch, c) => {
      if (ch === ".") return;
      const lonA = -80 + 3 * c, lonB = lonA + 3, latA = 60 - 3 * r, latB = latA - 3;
      const d = `M${[pt(lonA, latA), pt(lonB, latA), pt(lonB, latB), pt(lonA, latB)].map((p) => p.join(",")).join("L")}Z`;
      const fill = kind === "phase"
        ? phaseValueColor(phaseByLetter[ch], +(valueRows[r][c] || 0) / 9)
        : rhoColor(+ch / 10);
      cells.push(<path key={`${r}-${c}`} d={d} fill={fill} stroke={fill} strokeWidth={0.6} />);
    });
  });

  const lonTicks = d3.range(-80, 0.1, 5);
  const latTicks = d3.range(0, 60.1, 5);
  return (
    <g>
      <defs>
        <clipPath id={`clip-${id}`}><path d={clipD} /></clipPath>
        <filter id={`blur-${id}`} x="-5%" y="-5%" width="110%" height="110%">
          <feGaussianBlur stdDeviation={kind === "phase" ? 2.4 : 3.5} />
        </filter>
      </defs>
      <g clipPath={`url(#clip-${id})`}>
        <path d={clipD} fill="#bdbdbd" />
        <g filter={`url(#blur-${id})`}>{cells}</g>
        {landAreas.map((area, i) => (
          <path key={i} d={`${polyLine(area.map((p) => pt(p[0], p[1])))}Z`} fill="#bdbdbd" />
        ))}
        {kind === "phase" && contourLines.map((line, i) => (
          <path key={i} d={curve(line.map((p) => pt(p[0], p[1]))) as string} fill="none" stroke="#8c8c8c" strokeWidth={1.3} />
        ))}
        {kind === "rho" && stressGrid.map((s, i) => {
          const [lon, lat, u, v, a, b, ang, dashed] = s;
          const [x, y] = pt(lon, lat);
          const k = 0.58; // px per 1e-3 N/m2
          return (
            <g key={i}>
              <ellipse cx={x} cy={y} rx={a * k} ry={Math.max(b * k, 0.4)} transform={`rotate(${-ang} ${x} ${y})`} fill="none" stroke="#fff" strokeWidth={1} strokeDasharray={dashed ? "3 2" : undefined} />
              <GreenArrow x0={x} y0={y} x1={x + u * k} y1={y - v * k} />
            </g>
          );
        })}
      </g>
      {kind === "phase" && contourLabels.map((l, i) => (
        <text key={i} x={l[0]} y={l[1]} transform={`rotate(${l[3]} ${l[0]} ${l[1]})`} textAnchor="middle" dy="0.35em" fontSize={15} fill="#fff">{l[2]}</text>
      ))}
      <path d={leftD} fill="none" stroke="#000" strokeWidth={3} />
      <path d={rightD} fill="none" stroke="#000" strokeWidth={3} />
      <line x1={pt(-80, 0)[0] - 1} x2={pt(0, 0)[0] + 1} y1={331} y2={331} stroke="#000" strokeWidth={2.5} />
      <line x1={pt(-80, 60)[0] - 1} x2={pt(0, 60)[0] + 1} y1={pt(0, 60)[1]} y2={pt(0, 60)[1]} stroke="#000" strokeWidth={2.5} />
      {lonTicks.map((lon) => {
        const major = (lon + 70) % 20 === 0;
        const [xb, yb] = pt(lon, 0);
        const [xt, yt] = pt(lon, 60);
        const [xo, yo] = pt(lon, major ? 61.6 : 60.8);
        return (
          <g key={lon} stroke="#000" strokeWidth={1}>
            <line x1={xb} x2={xb} y1={yb} y2={yb + (major ? 8 : 4)} />
            <line x1={xt} x2={xo} y1={yt} y2={yo} />
          </g>
        );
      })}
      {latTicks.map((lat) => {
        const major = lat % 10 === 0;
        const len = major ? 8 : 4;
        const [xl, y] = pt(-80, lat);
        const [xr] = pt(0, lat);
        return (
          <g key={lat} stroke="#000" strokeWidth={1}>
            <line x1={xl} x2={xl - len} y1={y} y2={y} />
            <line x1={xr} x2={xr + len} y1={y} y2={y} />
          </g>
        );
      })}
      {d3.range(0, 60.1, 10).map((lat) => {
        const [xl, y] = pt(-80, lat);
        return <text key={lat} x={xl - 22} y={y} dy="0.35em" textAnchor="end" fontSize={LABEL}>{fmtDeg(lat)}</text>;
      })}
      {[-70, -50, -30, -10].map((lon) => (
        <text key={lon} x={pt(lon, 0)[0]} y={369} textAnchor="middle" fontSize={LABEL}>{`${-lon}\u02DAW`}</text>
      ))}
    </g>
  );
}

function TransportPanel() {
  const sv = d3.scaleLinear([-5, 5], [1099, 1241]);
  const latY = d3.scaleLinear([0, 60], [331, 48]);
  const pxPerSv = sv(1) - sv(0);
  const arrow = (lat: number, u: number, v: number, shaft: number, headW: number, headL: number) => {
    const x0 = sv(0), y0 = latY(lat);
    const dx = u * pxPerSv, dy = -v * pxPerSv;
    const len = Math.hypot(dx, dy);
    const ux = dx / len, uy = dy / len;
    const hl = Math.min(headL, len);
    const bx = x0 + dx - ux * hl, by = y0 + dy - uy * hl;
    const nx = -uy, ny = ux;
    const p = [
      [x0 + nx * shaft, y0 + ny * shaft], [bx + nx * shaft, by + ny * shaft], [bx + nx * headW, by + ny * headW],
      [x0 + dx, y0 + dy], [bx - nx * headW, by - ny * headW], [bx - nx * shaft, by - ny * shaft], [x0 - nx * shaft, y0 - ny * shaft],
    ];
    return p.map((q) => q.join(",")).join(" ");
  };
  return (
    <g>
      <line x1={sv(0)} x2={sv(0)} y1={48} y2={331} stroke="#000" strokeDasharray="5 4" strokeWidth={1} />
      {arrayLines.map(([lat, name]) => (
        <g key={name}>
          <line x1={1114} x2={1231} y1={latY(lat)} y2={latY(lat)} stroke="#000" strokeDasharray="5 5" strokeWidth={1} />
          <text x={1092} y={latY(lat)} dy="0.35em" textAnchor="end" fontSize={LABEL}>{name}</text>
        </g>
      ))}
      {transportGray.map(([lat, u, v], i) => (
        <polygon key={i} points={arrow(lat, u, v, 2, 6.5, 12)} fill="#fff" stroke="#808080" strokeWidth={1.3} />
      ))}
      {transportArrays.map(([lat, u, v, color]) => (
        <polygon key={color} points={arrow(lat, u, v, 1.5, 6, 13)} fill={color} />
      ))}
      <rect x={1099} y={48} width={142} height={283} fill="none" stroke="#000" strokeWidth={3} />
      {d3.range(-5, 5.1, 1).map((t) => {
        const len = t % 5 === 0 ? 7 : 3;
        return (
          <g key={t} stroke="#000" strokeWidth={1}>
            <line x1={sv(t)} x2={sv(t)} y1={48} y2={48 - len} />
            <line x1={sv(t)} x2={sv(t)} y1={331} y2={331 + len} />
          </g>
        );
      })}
      {[-5, 0, 5].map((t) => (
        <text key={t} x={sv(t)} y={369} textAnchor="middle" fontSize={LABEL}>{t < 0 ? `\u2013${-t}` : t}</text>
      ))}
      <text x={sv(0)} y={407} textAnchor="middle" fontSize={LABEL}>Sv</text>
    </g>
  );
}

function Inset() {
  const x = d3.scaleLinear([0, 1], [78, 133]);
  const y = d3.scaleLinear([0, 1], [426, 380]);
  const line = d3.line().x((d) => x(d[0])).y((d) => y(d[1]));
  return (
    <g>
      <path d={line(insetCurve) as string} fill="none" stroke="#808080" strokeWidth={1.3} />
      <line x1={78} x2={78} y1={378} y2={427} stroke="#000" strokeWidth={3} />
      <line x1={77} x2={173} y1={426} y2={426} stroke="#000" strokeWidth={3} />
      <line x1={71} x2={78} y1={380} y2={380} stroke="#000" strokeWidth={1} />
      <line x1={71} x2={78} y1={426} y2={426} stroke="#000" strokeWidth={1} />
      {[0, 0.5, 1, 1.5].map((t) => (
        <line key={t} x1={x(t)} x2={x(t)} y1={426} y2={426 + (t % 1 === 0 ? 7 : 4)} stroke="#000" strokeWidth={1} />
      ))}
      <text x={55} y={387} textAnchor="end" fontSize={LABEL}>1</text>
      <text x={55} y={434} textAnchor="end" fontSize={LABEL}>0</text>
      <text x={78} y={463} textAnchor="middle" fontSize={LABEL}>0</text>
      <text x={133} y={463} textAnchor="middle" fontSize={LABEL}>1</text>
      <text transform="translate(40,403) rotate(-90)" textAnchor="middle" fontSize={LABEL}>Value</text>
      <text x={79} y={483} fontSize={LABEL}>10<tspan dy={-7} fontSize={SUP}>7</tspan><tspan dy={7}> N m</tspan><tspan dy={-7} fontSize={SUP}>{"\u20133"}</tspan></text>
    </g>
  );
}

function PhaseBar() {
  const x = d3.scaleLinear([-180, 180], [267, 645]);
  const steps = d3.range(-180, 180, 3);
  return (
    <g>
      <defs>
        <linearGradient id="bar-shade" x1="0" y1="0" x2="0" y2="1">
          <stop offset="0.55" stopColor="#000" stopOpacity={0} />
          <stop offset="1" stopColor="#000" stopOpacity={1} />
        </linearGradient>
      </defs>
      {steps.map((p) => (
        <rect key={p} x={x(p)} y={388} width={x(p + 3) - x(p) + 0.5} height={29} fill={phaseColor(p + 1.5)} />
      ))}
      <rect x={267} y={388} width={378} height={29} fill="url(#bar-shade)" />
      <rect x={267} y={388} width={378} height={29} fill="none" stroke="#000" strokeWidth={3} />
      {barTicks.map((t) => (
        <g key={t}>
          <line x1={x(t)} x2={x(t)} y1={398} y2={408} stroke="#000" strokeWidth={1} />
          <line x1={x(t)} x2={x(t)} y1={417} y2={423} stroke="#000" strokeWidth={1} />
          <text x={x(t)} y={454} textAnchor="middle" fontSize={LABEL}>{t < 0 ? `\u2013${-t}` : t}</text>
        </g>
      ))}
      <text x={456} y={483} textAnchor="middle" fontSize={LABEL}>Phase (Degree)</text>
      <text x={661} y={411} fontSize={LABEL}>Value</text>
      <ellipse cx={789} cy={402} rx={29} ry={13} fill="none" stroke="#000" strokeWidth={1} />
      <GreenArrow x0={790} y0={402} x1={818} y1={402} />
      <text x={835} y={411} fontSize={LABEL}>0.05 × 0.025 N m<tspan dy={-7} fontSize={SUP}>{"\u20132"}</tspan></text>
    </g>
  );
}

function RhoBar() {
  const y = d3.scaleLinear([0, 1], [285, 190]);
  const steps = d3.range(0, 1, 0.02);
  return (
    <g>
      {steps.map((r) => (
        <rect key={r} x={963} y={y(r + 0.02)} width={11} height={y(r) - y(r + 0.02) + 0.5} fill={rhoColor(r + 0.01)} />
      ))}
      <rect x={963} y={190} width={11} height={95} fill="none" stroke="#222" strokeWidth={1} />
      <line x1={974} x2={979} y1={190} y2={190} stroke="#000" strokeWidth={1.5} />
      <line x1={974} x2={979} y1={285} y2={285} stroke="#000" strokeWidth={1.5} />
      <text x={988} y={197} textAnchor="middle" fontSize={LABEL}>1</text>
      <text x={988} y={292} textAnchor="middle" fontSize={LABEL}>0</text>
      <text transform="translate(995,238) rotate(-90)" textAnchor="middle" fontSize={LABEL}>ρ</text>
    </g>
  );
}

function TimePanel({ top, bottom, domain, major, minor, labelDy, fmt, children }: {
  top: number; bottom: number; domain: [number, number]; major: number[]; minor: number[]; labelDy: number; fmt: (v: number) => string; children: (x: (m: number) => number, y: d3.ScaleLinear<number, number>) => React.ReactNode;
}) {
  const time = d3.scaleUtc([new Date(Date.UTC(2004, 7, 1)), new Date(Date.UTC(2008, 4, 1))], [116, 1231]);
  const x = (m: number) => time(new Date(Date.UTC(2005, 0, 1) + m * 30.44 * 864e5));
  const y = d3.scaleLinear(domain, [bottom, top]);
  const months = d3.utcMonth.range(new Date(Date.UTC(2004, 7, 1)), new Date(Date.UTC(2008, 4, 2)));
  return (
    <g>
      {children(x, y)}
      <rect x={116} y={top} width={1115} height={bottom - top} fill="none" stroke="#000" strokeWidth={3} />
      {months.map((d, i) => {
        const len = d.getUTCMonth() % 6 === 0 ? 8 : 4;
        return (
          <g key={i} stroke="#000" strokeWidth={1}>
            <line x1={time(d)} x2={time(d)} y1={top} y2={top - len} />
            <line x1={time(d)} x2={time(d)} y1={bottom} y2={bottom + len} />
          </g>
        );
      })}
      {months.filter((d) => d.getUTCMonth() % 6 === 0).map((d, i) => (
        <text key={i} x={time(d) + 12} y={bottom + labelDy} textAnchor="middle" fontSize={LABEL}>{timeLabels[i]}</text>
      ))}
      {minor.map((v) => (
        <g key={v} stroke="#000" strokeWidth={1}>
          <line x1={116} x2={112} y1={y(v)} y2={y(v)} />
          <line x1={1231} x2={1235} y1={y(v)} y2={y(v)} />
        </g>
      ))}
      {major.map((v) => (
        <g key={v}>
          <line x1={116} x2={108} y1={y(v)} y2={y(v)} stroke="#000" strokeWidth={1} />
          <line x1={1231} x2={1239} y1={y(v)} y2={y(v)} stroke="#000" strokeWidth={1} />
          <text x={93} y={y(v)} dy="0.35em" textAnchor="end" fontSize={LABEL}>{fmt(v)}</text>
        </g>
      ))}
    </g>
  );
}

const signed = (v: number) => (v < 0 ? `\u2013${-v}` : `${v}`);

export default function App() {
  return (
    <svg width={1258} height={1072} style={{ position: "absolute", left: 0, top: 0, background: "#fff" }} fontFamily={FONT}>
      <text x={124} y={24} fontSize={LABEL}>(a) ASVD1<tspan dy={-7} fontSize={SUP}>*</tspan><tspan dy={7}> [∇ × τ], SFC = 42%</tspan></text>
      <text x={769} y={24} fontSize={LABEL}>(b) ASVD1<tspan dy={-7} fontSize={SUP}>*</tspan><tspan dy={7}> [τ]</tspan></text>
      <text x={1103} y={24} fontSize={LABEL}>(c) ASVD1<tspan dy={-7} fontSize={SUP}>*</tspan><tspan dy={7}> [T]</tspan></text>
      <MapPanel id="a" cx={267.5} kind="phase" />
      <MapPanel id="b" cx={835} kind="rho" />
      <RhoBar />
      <TransportPanel />
      <Inset />
      <PhaseBar />

      <text x={91} y={543} fontSize={LABEL}>(d) Absolute value: APC1 [∇ × τ,τ]</text>
      <text x={445} y={543} fontSize={LABEL} fill="#808080">APC1 [T]<tspan fill="#000">; r = 0.51</tspan></text>
      <TimePanel top={558} bottom={747} domain={[0, 2.5]} major={[0, 1, 2]} minor={[0.5, 1.5]} labelDy={38} fmt={(v) => `${v}`}>
        {(x, y) => {
          const line = d3.line<[number, number]>().x((d) => x(d[0])).y((d) => y(d[1])).curve(d3.curveCatmullRom.alpha(0.5));
          return (
            <g>
              <path d={line(absT) as string} fill="none" stroke="#808080" strokeWidth={1.4} />
              <path d={line(absDiv) as string} fill="none" stroke="#000" strokeWidth={1.4} />
            </g>
          );
        }}
      </TimePanel>

      <text x={91} y={828} fontSize={LABEL}>(e) Phase: APC1 [∇ × τ,τ]</text>
      <text x={445} y={828} fontSize={LABEL} fill="#808080">APC1 [T]</text>
      <TimePanel top={842} bottom={1031} domain={[-180, 180]} major={[-180, -90, 0, 90, 180]} minor={[-135, -45, 45, 135]} labelDy={36.5} fmt={signed}>
        {(x, y) => {
          const line = d3.line<[number, number]>().x((d) => x(d[0])).y((d) => y(d[1])).curve(d3.curveCatmullRom.alpha(0.5));
          return (
            <g>
              {phaseT.map((s, i) => <path key={i} d={line(s) as string} fill="none" stroke="#808080" strokeWidth={1.3} />)}
              {phaseDiv.map((s, i) => <path key={i} d={line(s) as string} fill="none" stroke="#000" strokeWidth={1.4} />)}
            </g>
          );
        }}
      </TimePanel>
      <text transform="translate(23,936) rotate(-90)" textAnchor="middle" fontSize={LABEL}>Degree</text>
    </svg>
  );
}
